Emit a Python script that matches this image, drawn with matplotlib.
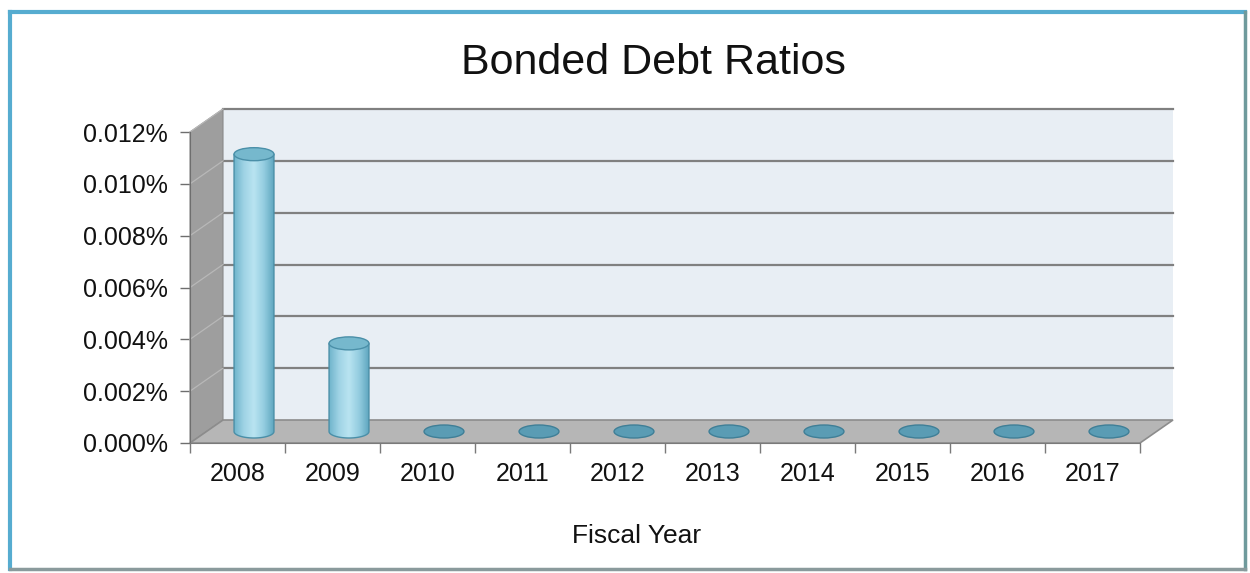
import numpy as np
import matplotlib
matplotlib.use("Agg")
import matplotlib.pyplot as plt
from matplotlib.patches import Polygon, Ellipse, PathPatch
from matplotlib.path import Path
from matplotlib.transforms import Affine2D, IdentityTransform
from matplotlib.lines import Line2D
from matplotlib.colors import LinearSegmentedColormap

# ---------------- data ----------------
years = ["2008", "2009", "2010", "2011", "2012", "2013", "2014", "2015", "2016", "2017"]
ratios = [0.0107, 0.0034, 0.0, 0.0, 0.0, 0.0, 0.0, 0.0, 0.0, 0.0]   # percent
yticks = [0.000, 0.002, 0.004, 0.006, 0.008, 0.010, 0.012]
title = "Bonded Debt Ratios"
xlabel = "Fiscal Year"

# ---------------- style ----------------
W, H = 1250, 573
DX, DY = 33, 23            # depth offset in pixels
BAR_W = 0.42
ELL_PX = 13                # ellipse height in pixels
FONT = "Liberation Sans"

fig = plt.figure(figsize=(W / 100, H / 100), dpi=100)
fig.patch.set_facecolor("white")
ax = fig.add_axes([190 / W, 1 - 443 / H, 950 / W, 311 / H])
ax.set_facecolor("none")
n = len(years)
ax.set_xlim(-0.5, n - 0.5)
ax.set_ylim(yticks[0], yticks[-1])

def proj(x, y, z):
    px, py = ax.transData.transform((x, y))
    return (px + z * DX, py + z * DY)

ident = IdentityTransform()
x0, x1 = -0.5, n - 0.5
y0, y1 = yticks[0], yticks[-1]

# back wall
ax.add_patch(Polygon([proj(x0, y0, 1), proj(x1, y0, 1), proj(x1, y1, 1), proj(x0, y1, 1)],
                     closed=True, transform=ident, facecolor="#e8eef4", edgecolor="none",
                     zorder=1, clip_on=False))
# left wall
ax.add_patch(Polygon([proj(x0, y0, 0), proj(x0, y1, 0), proj(x0, y1, 1), proj(x0, y0, 1)],
                     closed=True, transform=ident, facecolor="#9e9e9e", edgecolor="#8a8a8a",
                     lw=0.8, zorder=1, clip_on=False))
# floor
ax.add_patch(Polygon([proj(x0, y0, 0), proj(x1, y0, 0), proj(x1, y0, 1), proj(x0, y0, 1)],
                     closed=True, transform=ident, facecolor="#b6b6b6", edgecolor="#8c8c8c",
                     lw=1.2, zorder=2, clip_on=False))
# gridlines on back wall and side wall
for yv in yticks:
    a, b = proj(x0, yv, 1), proj(x1, yv, 1)
    if yv > y0:
        ax.add_line(Line2D([a[0], b[0]], [a[1], b[1]], transform=ident, color="#808080",
                           lw=1.6, zorder=2.5, clip_on=False))
        c = proj(x0, yv, 0)
        ax.add_line(Line2D([c[0], a[0]], [c[1], a[1]], transform=ident, color="#b8b8b8",
                           lw=0.9, zorder=2.5, clip_on=False))

# bars (cylinders at mid depth)
mid = ax.transData + Affine2D().translate(DX / 2, DY / 2)
px_per_unit = ax.transData.transform((0, y1))[1] - ax.transData.transform((0, y0))[1]
ell_h = ELL_PX * (y1 - y0) / px_per_unit
cmap = LinearSegmentedColormap.from_list("cyl", ["#6fb4cb", "#9fd3e5", "#b9e4f1", "#94cde0", "#5fa6bf"])
grad = np.linspace(0, 1, 256).reshape(1, -1)

for i, v in enumerate(ratios):
    if v <= 0:
        ax.add_patch(Ellipse((i, v), BAR_W, ell_h, transform=mid, facecolor="#5a9cb4",
                             edgecolor="#3f7f97", lw=1.0, zorder=4, clip_on=False))
        continue
    l, r = i - BAR_W / 2, i + BAR_W / 2
    t = np.linspace(np.pi, 2 * np.pi, 40)
    bottom = [(i + BAR_W / 2 * np.cos(tt), 0 + ell_h / 2 * np.sin(tt)) for tt in t]
    verts = [(l, v)] + bottom + [(r, v), (l, v)]
    path = Path(verts, closed=True)
    body = PathPatch(path, transform=mid, facecolor="none", edgecolor="#4a8fa8", lw=1.0,
                     zorder=5)
    im = ax.imshow(grad, cmap=cmap, extent=(l, r, -ell_h / 2, v), transform=mid, aspect="auto",
                   interpolation="bicubic", zorder=4)
    ax.add_patch(body)
    im.set_clip_path(body)
    ax.add_patch(Ellipse((i, v), BAR_W, ell_h, transform=mid, facecolor="#76b8cd",
                         edgecolor="#4a8fa8", lw=1.0, zorder=6, clip_on=False))

ax.set_xlim(x0, x1)
ax.set_ylim(y0, y1)
ax.set_aspect("auto")

# axes / ticks
for s in ("top", "right"):
    ax.spines[s].set_visible(False)
ax.spines["left"].set_color("#6e6e6e")
ax.spines["bottom"].set_color("#7a7a7a")
ax.spines["left"].set_zorder(7)
ax.spines["bottom"].set_zorder(7)
ax.set_yticks(yticks)
ax.set_yticklabels([f"{v:.3f}%" for v in yticks])
ax.tick_params(axis="y", length=7, width=1, color="#6e6e6e", pad=9,
               labelsize=18, labelcolor="#111111")
ax.set_xticks(np.arange(-0.5, n, 1.0))
ax.set_xticklabels([])
ax.tick_params(axis="x", which="major", length=7, width=1, color="#7a7a7a")
ax.set_xticks(np.arange(n), minor=True)
ax.set_xticklabels(years, minor=True)
ax.tick_params(axis="x", which="minor", length=0, pad=14, labelsize=18, labelcolor="#111111")
for lab in ax.get_xticklabels(minor=True) + ax.get_yticklabels():
    lab.set_fontfamily(FONT)

ax.set_xlabel(xlabel, fontsize=19, fontfamily=FONT, color="#111111")
ax.xaxis.set_label_coords((637 - 190) / 950, -(524 - 443) / 311)

fig.text(653 / W, 1 - 63 / H, title, ha="center", va="center", fontsize=31,
         fontfamily=FONT, color="#111111")

# outer frame
def fline(xs, ys, color, lw):
    fig.add_artist(Line2D([x / W for x in xs], [1 - y / H for y in ys],
                          transform=fig.transFigure, color=color, lw=lw))
fline([10, 1245], [12, 12], "#56acd0", 3.0)
fline([10, 10], [12, 569], "#56acd0", 3.0)
fline([1245, 1245], [12, 569], "#6f9a9c", 2.5)
fline([10, 1245], [569, 569], "#8a9a9c", 2.5)

fig.savefig("out.png", dpi=100)
